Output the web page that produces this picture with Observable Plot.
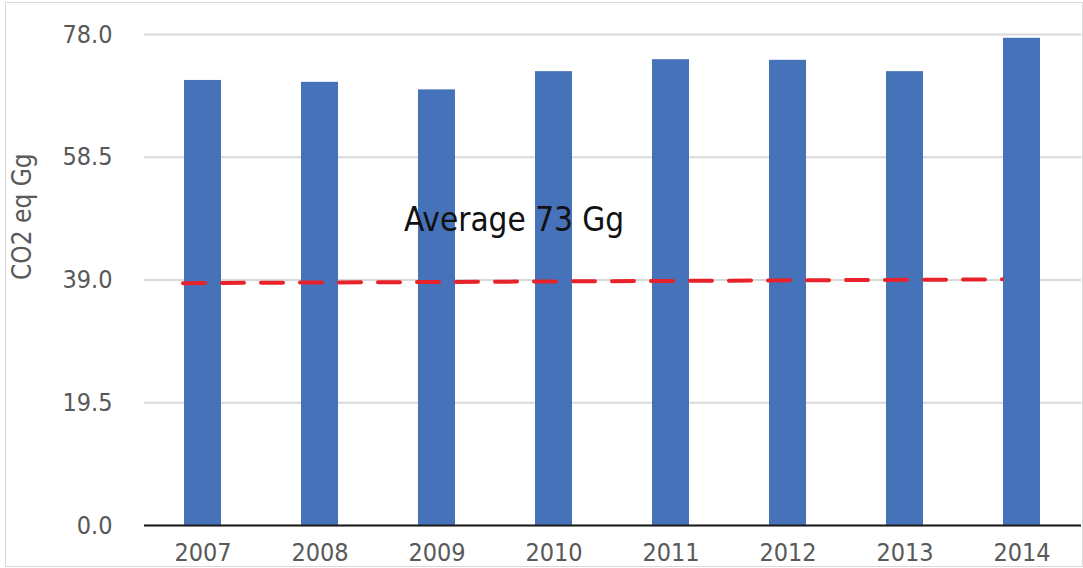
<!DOCTYPE html>
<html>
<head>
<meta charset="utf-8">
<script src="https://cdn.jsdelivr.net/npm/d3@7"></script>
<script src="https://cdn.jsdelivr.net/npm/@observablehq/plot@0.6"></script>
<style>
  html, body { margin: 0; padding: 0; background: #fff; }
  #wrap { position: relative; width: 1083px; height: 568px; overflow: hidden; }
  #border { position: absolute; left: 5px; top: 2px; width: 1076px; height: 563px; border: 1px solid #d9d9d9; pointer-events: none; }
  #chart svg { display: block; }
</style>
</head>
<body>
<div id="wrap">
  <div id="chart"></div>
  <div id="border"></div>
</div>
<script>
// Annual emissions, CO2 equivalent (Gg)
const years = ["2007", "2008", "2009", "2010", "2011", "2012", "2013", "2014"];
const emissions = [70.7, 70.4, 69.2, 72.1, 74.0, 73.9, 72.1, 77.4];

// Dashed trend line endpoints
const trendYears = ["2007", "2014"];
const trendValues = [38.5, 39.1];

// Axis ticks and labels
const yTicks = [0, 19.5, 39, 58.5, 78];
const yTitle = "CO2 eq Gg";

// Annotation
const noteText = "Average 73 Gg";
const noteYear = "2009";
const noteValue = 48.4;

const data = years.map((year, i) => ({year, value: emissions[i]}));
const trend = trendYears.map((year, i) => ({year, value: trendValues[i]}));

const font = '"DejaVu Sans Condensed", "DejaVu Sans", sans-serif';

const chart = Plot.plot({
  width: 1083,
  height: 568,
  marginLeft: 144,
  marginRight: 2,
  marginTop: 34,
  marginBottom: 43,
  style: {fontFamily: font, fontSize: "25px", fontStretch: "condensed", color: "#595959", background: "transparent", overflow: "visible"},
  x: {domain: years, paddingInner: 0.683, paddingOuter: 0.342, axis: null},
  y: {domain: [0, 78], axis: null},
  marks: [
    Plot.gridY(yTicks, {stroke: "#d9d9d9", strokeWidth: 2, strokeOpacity: 1}),
    Plot.barY(data, {x: "year", y: "value", fill: "#4672b9"}),
    Plot.ruleY([0], {stroke: "#1a1a1a", strokeWidth: 2}),
    Plot.line(trend, {x: "year", y: "value", stroke: "#e8222a", strokeWidth: 4, strokeDasharray: "22,17", dx: -20}),
    Plot.axisY(yTicks, {tickSize: 0, tickPadding: 32, tickFormat: d3.format(".1f"), label: null, fill: "#595959"}),
    Plot.axisX({tickSize: 0, tickPadding: 18, label: null, fill: "#595959"}),
    Plot.text([yTitle], {frameAnchor: "left", text: d => d, rotate: -90, dx: -122, fill: "#595959", fontSize: 26}),
    Plot.text([noteText], {x: () => noteYear, y: () => noteValue, text: d => d, textAnchor: "start", dx: -33, fill: "#111", fontSize: 33})
  ]
});

document.getElementById("chart").appendChild(chart);
</script>
</body>
</html>
